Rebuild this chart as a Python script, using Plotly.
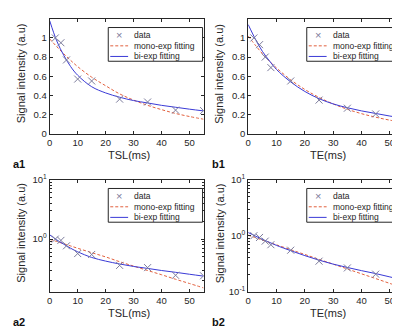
import plotly.graph_objects as go

W, H = 400, 331

# ---------------- data ----------------
tsl = [2, 4, 6, 10, 15, 25, 35, 45, 55]
sig_tsl = [1.00, 0.95, 0.77, 0.57, 0.55, 0.36, 0.33, 0.245, 0.24]
te = [2, 4, 6, 8, 15, 25, 35, 45, 55]
sig_te = [1.00, 0.93, 0.80, 0.69, 0.55, 0.35, 0.265, 0.205, 0.16]

fit_x = [0, 2.5, 5, 7.5, 10, 15, 20, 25, 30, 35, 40, 45, 50, 55]
tsl_mono = [0.99, 0.91, 0.835, 0.765, 0.70, 0.59, 0.50, 0.415, 0.35, 0.295, 0.25, 0.21, 0.178, 0.15]
tsl_bi = [1.18, 0.97, 0.82, 0.70, 0.61, 0.49, 0.425, 0.38, 0.345, 0.32, 0.295, 0.275, 0.255, 0.237]
te_mono = [1.02, 0.925, 0.836, 0.757, 0.686, 0.562, 0.461, 0.378, 0.31, 0.254, 0.208, 0.171, 0.14, 0.115]
te_bi = [1.14, 0.99, 0.86, 0.76, 0.67, 0.54, 0.44, 0.365, 0.31, 0.27, 0.237, 0.21, 0.183, 0.16]

x_ticks = [0, 10, 20, 30, 40, 50]
lin_y_ticks = [0, 0.2, 0.4, 0.6, 0.8, 1]
lin_y_labels = ["0", "0.2", "0.4", "0.6", "0.8", "1"]
log_y_ticks = [0.1, 1, 10]
log_y_labels = ["10<sup>-1</sup>", "10<sup>0</sup>", "10<sup>1</sup>"]
log_minor = [0.2, 0.3, 0.4, 0.5, 0.6, 0.7, 0.8, 0.9, 2, 3, 4, 5, 6, 7, 8, 9]

legend_names = ["data", "mono-exp fitting", "bi-exp fitting"]
panel_labels = ["a1", "b1", "a2", "b2"]
x_titles = ["TSL(ms)", "TE(ms)", "TSL(ms)", "TE(ms)"]
y_title = "Signal intensity (a.u)"

# ---------------- style ----------------
C_AX = "#262626"
C_DATA = "#7c7c9c"
C_MONO = "#e2603e"
C_BI = "#3a3ad6"
FONT = "Liberation Sans, Arial, sans-serif"

def px_x(p):
    return p / W

def px_y(p):
    return 1 - p / H

# panel pixel boxes: (left, right, top, bottom)
boxes = [(39, 194, 4, 123), (239, 396, 4, 123), (39, 194, 171, 287), (239, 396, 171, 287)]
series = [
    (tsl, sig_tsl, tsl_mono, tsl_bi, False),
    (te, sig_te, te_mono, te_bi, False),
    (tsl, sig_tsl, tsl_mono, tsl_bi, True),
    (te, sig_te, te_mono, te_bi, True),
]
log_ranges = {2: [-0.886, 1], 3: [-1, 1]}

fig = go.Figure()
shapes = []
annotations = []

for i, ((l, r, t, b), (xd, yd, ym, yb, is_log)) in enumerate(zip(boxes, series)):
    n = "" if i == 0 else str(i + 1)
    xa, ya = "x" + n, "y" + n
    fig.add_trace(go.Scatter(x=fit_x, y=ym, mode="lines", xaxis=xa, yaxis=ya,
                             line=dict(color=C_MONO, width=1, dash="3px,2px", shape="spline"),
                             showlegend=False))
    fig.add_trace(go.Scatter(x=fit_x, y=yb, mode="lines", xaxis=xa, yaxis=ya,
                             line=dict(color=C_BI, width=1, shape="spline"), showlegend=False))
    fig.add_trace(go.Scatter(x=xd, y=yd, mode="markers", xaxis=xa, yaxis=ya,
                             marker=dict(symbol="x-thin", size=7, line=dict(color=C_DATA, width=1)),
                             showlegend=False))

    axis_common = dict(showline=True, linecolor=C_AX, linewidth=1, mirror="ticks",
                       ticks="inside", ticklen=3, tickcolor=C_AX, tickwidth=1,
                       showgrid=False, zeroline=False,
                       tickfont=dict(family=FONT, size=9.5, color=C_AX))
    fig.update_layout(**{
        ("xaxis" + n): dict(domain=[px_x(l), px_x(r)], anchor=ya, range=[0, 55],
                            tickmode="array", tickvals=x_ticks, **axis_common),
    })
    if is_log:
        fig.update_layout(**{
            ("yaxis" + n): dict(domain=[px_y(b), px_y(t)], anchor=xa, type="log",
                                range=log_ranges[i], tickmode="array",
                                tickvals=log_y_ticks, ticktext=log_y_labels,
                                minor=dict(ticks="inside", ticklen=2, tickcolor=C_AX,
                                           tickmode="array", tickvals=log_minor, showgrid=False),
                                **axis_common),
        })
    else:
        fig.update_layout(**{
            ("yaxis" + n): dict(domain=[px_y(b), px_y(t)], anchor=xa, range=[0, 1.2],
                                tickmode="array", tickvals=lin_y_ticks, ticktext=lin_y_labels,
                                **axis_common),
        })

    # axis titles
    annotations.append(dict(x=px_x((l + r) / 2 + 2), y=px_y(b + 22), xref="paper", yref="paper",
                            text=x_titles[i], showarrow=False, xanchor="center", yanchor="middle",
                            font=dict(family=FONT, size=11, color=C_AX)))
    annotations.append(dict(x=px_x(l - 29), y=px_y((t + b) / 2 - 3), xref="paper", yref="paper",
                            text=y_title, showarrow=False, textangle=-90,
                            xanchor="center", yanchor="middle",
                            font=dict(family=FONT, size=11, color=C_AX)))
    # panel label
    annotations.append(dict(x=px_x(l - 39), y=px_y(b + 32), xref="paper", yref="paper",
                            text="<b>" + panel_labels[i] + "</b>", showarrow=False,
                            xanchor="left", yanchor="middle",
                            font=dict(family=FONT, size=11, color="#111111")))

    # legend box (manual, compact like MATLAB)
    lx0, lx1 = l + 59, r - 1
    ly0 = t + 9
    ly1 = ly0 + 35
    shapes.append(dict(type="rect", xref="paper", yref="paper",
                       x0=px_x(lx0), x1=px_x(lx1), y0=px_y(ly1), y1=px_y(ly0),
                       line=dict(color=C_AX, width=1), fillcolor="white", layer="above"))
    rows = [ly0 + 7.5, ly0 + 19, ly0 + 30]
    annotations.append(dict(x=px_x(lx0 + 11), y=px_y(rows[0]), xref="paper", yref="paper",
                            text="×", showarrow=False, xanchor="center", yanchor="middle",
                            font=dict(family=FONT, size=11, color=C_DATA)))
    shapes.append(dict(type="line", xref="paper", yref="paper",
                       x0=px_x(lx0 + 2), x1=px_x(lx0 + 20), y0=px_y(rows[1]), y1=px_y(rows[1]),
                       line=dict(color=C_MONO, width=1, dash="3px,2px"), layer="above"))
    shapes.append(dict(type="line", xref="paper", yref="paper",
                       x0=px_x(lx0 + 2), x1=px_x(lx0 + 20), y0=px_y(rows[2]), y1=px_y(rows[2]),
                       line=dict(color=C_BI, width=1), layer="above"))
    for name, ry in zip(legend_names, rows):
        annotations.append(dict(x=px_x(lx0 + 24), y=px_y(ry), xref="paper", yref="paper",
                                text=name, showarrow=False, xanchor="left", yanchor="middle",
                                font=dict(family=FONT, size=8.5, color=C_AX)))

fig.update_layout(width=W, height=H, margin=dict(l=0, r=0, t=0, b=0),
                  paper_bgcolor="white", plot_bgcolor="white",
                  showlegend=False, shapes=shapes, annotations=annotations)

fig.write_html("out.html")
